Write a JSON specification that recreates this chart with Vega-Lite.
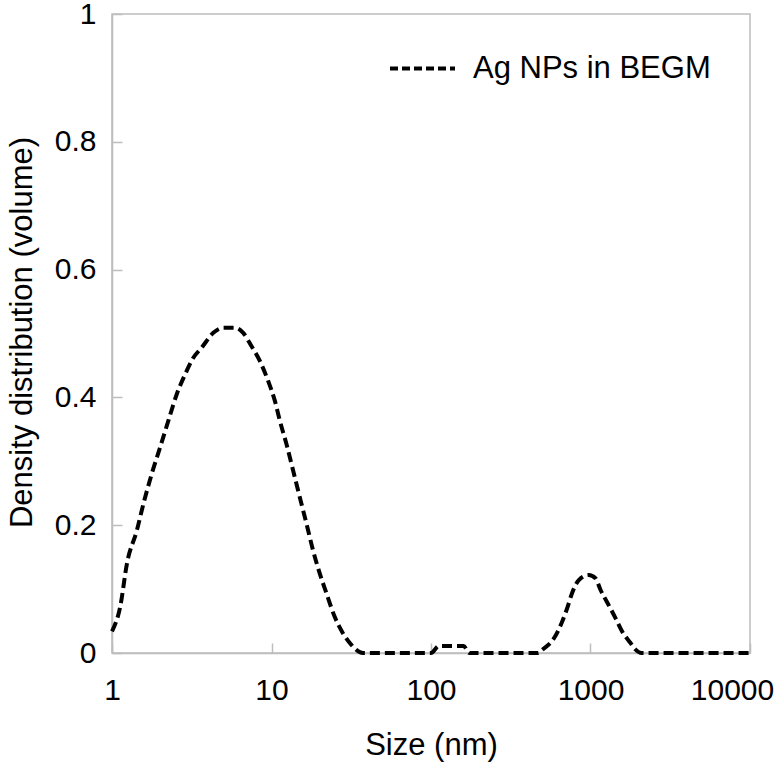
{
  "$schema": "https://vega.github.io/schema/vega-lite/v6.json",
  "width": 638,
  "height": 639,
  "autosize": "none",
  "padding": {"left": 112, "top": 14, "right": 30, "bottom": 114},
  "background": "white",
  "config": {
    "view": {"stroke": "#bdbdbd", "strokeWidth": 1.5},
    "axis": {
      "grid": false,
      "domainColor": "#bdbdbd",
      "domainWidth": 1.5,
      "tickColor": "#bdbdbd",
      "tickWidth": 1.5,
      "tickSize": -10,
      "labelFont": "Liberation Sans",
      "labelFontSize": 30,
      "labelColor": "#000",
      "titleFont": "Liberation Sans",
      "titleFontSize": 31,
      "titleFontWeight": "normal",
      "titleColor": "#000"
    },
    "legend": {
      "labelFont": "Liberation Sans",
      "labelFontSize": 31,
      "labelColor": "#000"
    }
  },
  "data": {
    "values": [
      {"size": 1.0, "value": 0.034, "series": "Ag NPs in BEGM"},
      {"size": 1.127, "value": 0.073, "series": "Ag NPs in BEGM"},
      {"size": 1.241, "value": 0.14, "series": "Ag NPs in BEGM"},
      {"size": 1.432, "value": 0.192, "series": "Ag NPs in BEGM"},
      {"size": 1.576, "value": 0.234, "series": "Ag NPs in BEGM"},
      {"size": 1.778, "value": 0.281, "series": "Ag NPs in BEGM"},
      {"size": 2.004, "value": 0.322, "series": "Ag NPs in BEGM"},
      {"size": 2.259, "value": 0.364, "series": "Ag NPs in BEGM"},
      {"size": 2.547, "value": 0.405, "series": "Ag NPs in BEGM"},
      {"size": 2.872, "value": 0.436, "series": "Ag NPs in BEGM"},
      {"size": 3.236, "value": 0.462, "series": "Ag NPs in BEGM"},
      {"size": 3.652, "value": 0.478, "series": "Ag NPs in BEGM"},
      {"size": 4.315, "value": 0.501, "series": "Ag NPs in BEGM"},
      {"size": 4.983, "value": 0.509, "series": "Ag NPs in BEGM"},
      {"size": 5.9, "value": 0.509, "series": "Ag NPs in BEGM"},
      {"size": 6.645, "value": 0.501, "series": "Ag NPs in BEGM"},
      {"size": 7.5, "value": 0.48, "series": "Ag NPs in BEGM"},
      {"size": 8.45, "value": 0.457, "series": "Ag NPs in BEGM"},
      {"size": 9.52, "value": 0.426, "series": "Ag NPs in BEGM"},
      {"size": 10.49, "value": 0.395, "series": "Ag NPs in BEGM"},
      {"size": 11.27, "value": 0.364, "series": "Ag NPs in BEGM"},
      {"size": 12.41, "value": 0.327, "series": "Ag NPs in BEGM"},
      {"size": 13.65, "value": 0.286, "series": "Ag NPs in BEGM"},
      {"size": 15.03, "value": 0.244, "series": "Ag NPs in BEGM"},
      {"size": 16.55, "value": 0.203, "series": "Ag NPs in BEGM"},
      {"size": 18.2, "value": 0.161, "series": "Ag NPs in BEGM"},
      {"size": 20.04, "value": 0.125, "series": "Ag NPs in BEGM"},
      {"size": 22.07, "value": 0.094, "series": "Ag NPs in BEGM"},
      {"size": 24.87, "value": 0.057, "series": "Ag NPs in BEGM"},
      {"size": 28.03, "value": 0.031, "series": "Ag NPs in BEGM"},
      {"size": 31.6, "value": 0.013, "series": "Ag NPs in BEGM"},
      {"size": 37.4, "value": 0.0, "series": "Ag NPs in BEGM"},
      {"size": 60, "value": 0.0, "series": "Ag NPs in BEGM"},
      {"size": 100, "value": 0.0, "series": "Ag NPs in BEGM"},
      {"size": 112, "value": 0.011, "series": "Ag NPs in BEGM"},
      {"size": 160, "value": 0.011, "series": "Ag NPs in BEGM"},
      {"size": 174, "value": 0.0, "series": "Ag NPs in BEGM"},
      {"size": 300, "value": 0.0, "series": "Ag NPs in BEGM"},
      {"size": 470, "value": 0.0, "series": "Ag NPs in BEGM"},
      {"size": 498, "value": 0.005, "series": "Ag NPs in BEGM"},
      {"size": 590, "value": 0.023, "series": "Ag NPs in BEGM"},
      {"size": 664, "value": 0.049, "series": "Ag NPs in BEGM"},
      {"size": 714, "value": 0.07, "series": "Ag NPs in BEGM"},
      {"size": 767, "value": 0.094, "series": "Ag NPs in BEGM"},
      {"size": 845, "value": 0.114, "series": "Ag NPs in BEGM"},
      {"size": 975, "value": 0.122, "series": "Ag NPs in BEGM"},
      {"size": 1074, "value": 0.117, "series": "Ag NPs in BEGM"},
      {"size": 1155, "value": 0.099, "series": "Ag NPs in BEGM"},
      {"size": 1300, "value": 0.075, "series": "Ag NPs in BEGM"},
      {"size": 1432, "value": 0.055, "series": "Ag NPs in BEGM"},
      {"size": 1576, "value": 0.034, "series": "Ag NPs in BEGM"},
      {"size": 1778, "value": 0.016, "series": "Ag NPs in BEGM"},
      {"size": 1905, "value": 0.006, "series": "Ag NPs in BEGM"},
      {"size": 2090, "value": 0.0, "series": "Ag NPs in BEGM"},
      {"size": 4000, "value": 0.0, "series": "Ag NPs in BEGM"},
      {"size": 10000, "value": 0.0, "series": "Ag NPs in BEGM"}
    ]
  },
  "mark": {"type": "line", "strokeWidth": 4, "strokeDash": [10, 5], "interpolate": "monotone"},
  "encoding": {
    "x": {
      "field": "size",
      "type": "quantitative",
      "scale": {"type": "log", "domain": [1, 10000], "nice": false},
      "axis": {
        "title": "Size (nm)",
        "values": [1, 10, 100, 1000, 10000],
        "format": "d",
        "labelPadding": 32,
        "labelFlush": false,
        "labelBound": false,
        "labelOverlap": false,
        "labelOffset": {"condition": {"test": "datum.value == 10000", "value": -18}, "value": 0},
        "titleY": 92,
        "titleX": 319,
        "titleBaseline": "middle"
      }
    },
    "y": {
      "field": "value",
      "type": "quantitative",
      "scale": {"domain": [0, 1], "nice": false},
      "axis": {
        "title": "Density distribution (volume)",
        "values": [0, 0.2, 0.4, 0.6, 0.8, 1],
        "format": "~g",
        "labelPadding": 26,
        "labelFlush": false,
        "labelBound": false,
        "labelOverlap": false,
        "titleX": -90,
        "titleY": 318,
        "titleAngle": -90,
        "titleAlign": "center",
        "titleBaseline": "middle"
      }
    },
    "color": {
      "field": "series",
      "type": "nominal",
      "scale": {"range": ["#000000"]},
      "legend": {
        "title": null,
        "orient": "none",
        "legendX": 276,
        "legendY": 20,
        "padding": 0,
        "labelLimit": 0,
        "symbolType": "stroke",
        "symbolSize": 4225,
        "symbolStrokeWidth": 4,
        "symbolDash": [8, 4],
        "labelOffset": 16
      }
    }
  }
}
